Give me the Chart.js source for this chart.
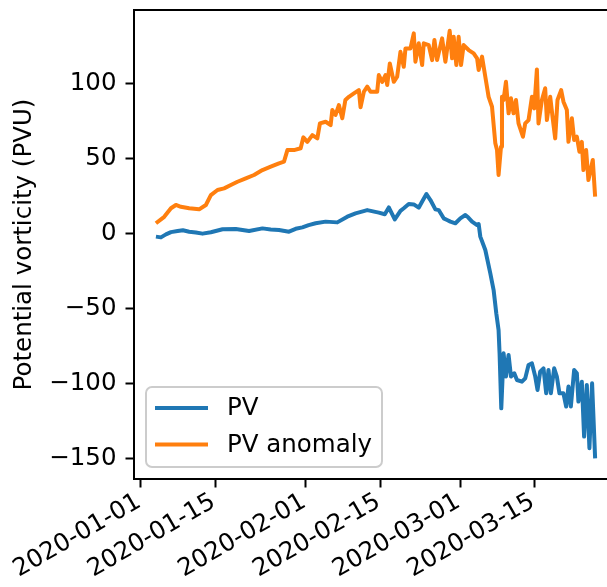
<!DOCTYPE html>
<html>
<head>
<meta charset="utf-8">
<script src="https://cdn.jsdelivr.net/npm/chart.js@4.4.1/dist/chart.umd.min.js"></script>
<style>
  html, body { margin: 0; padding: 0; background: #fff; overflow: hidden; }
  #wrap { position: relative; width: 625px; height: 587px; }
  canvas { display: block; }
</style>
</head>
<body>
<div id="wrap"><canvas id="pv-chart" width="625" height="587"></canvas></div>
<script>
// x values are days since 2020-01-01
var X_MIN = -1.31, X_MAX = 89.43;
var Y_MIN = -163.8, Y_MAX = 148.9;
var TICK_DAYS = [0, 14, 31, 45, 60, 74];
var TICK_LABELS = ['2020-01-01', '2020-01-15', '2020-02-01', '2020-02-15', '2020-03-01', '2020-03-15'];
var Y_TICKS = [-150, -100, -50, 0, 50, 100];
var Y_TITLE = 'Potential vorticity (PVU)';

var PV_DAYS = [2.81, 3.75, 4.69, 5.63, 6.88, 7.88, 9.06, 10.31, 11.57, 13.13, 15.32, 17.81, 20.31, 22.82,
  24.38, 25.93, 27.81, 29.06, 30.32, 31.5, 32.81, 34.69, 36.88, 38.76, 40.31, 42.51, 44.68, 45.81, 46.56,
  47.68, 48.75, 49.37, 50.31, 51.25, 52.18, 52.88, 53.63, 54.38, 55.31, 55.93, 56.87, 57.51, 58.13, 59.07,
  60.0, 60.94, 61.5, 62.2, 63.14, 63.44, 63.75, 64.69, 65.63, 66.25, 66.75, 67.18, 67.37, 67.69, 68.12,
  68.57, 69.06, 69.51, 70.13, 70.64, 71.57, 72.19, 72.81, 73.45, 74.07, 74.5, 75.0, 75.62, 76.13, 76.56,
  77.01, 77.63, 78.13, 78.62, 79.37, 79.88, 80.31, 80.76, 81.38, 81.89, 82.18, 82.82, 83.25, 83.76, 84.25,
  84.75, 85.32];
var PV_VALUES = [-2.2, -2.7, -0.7, 0.8, 1.5, 2.0, 1.1, 0.6, -0.2, 0.7, 2.7, 2.9, 1.5, 3.3,
  2.6, 2.2, 1.1, 3.0, 4.0, 5.5, 6.7, 7.8, 7.3, 11.1, 13.3, 15.5, 13.8, 12.7, 17.3,
  9.3, 15.0, 16.7, 19.5, 19.3, 17.1, 21.5, 26.2, 22.2, 16.0, 15.5, 10.0, 8.9, 7.8, 6.7,
  10.0, 12.2, 10.5, 7.8, 5.5, 6.2, -2.2, -11.1, -26.7, -37.8, -53.3, -64.4, -80, -116.7, -80,
  -95.5, -81.1, -95.5, -93.3, -97.8, -98.9, -96.7, -87.8, -86.7, -95.5, -104.4, -92.2, -90, -106.7, -91.1,
  -106.7, -90, -95.5, -106.7, -106.7, -115.5, -102.2, -115.5, -91.1, -93.3, -112.2, -98.9, -135.5, -101.1, -143.3,
  -100, -150];

var ANOM_DAYS = [2.81, 4.37, 5.63, 6.56, 7.5, 9.06, 10.93, 12.19, 13.13, 14.38, 15.62, 16.88, 18.13, 19.69,
  21.24, 22.82, 24.38, 25.93, 26.87, 27.51, 28.75, 30.0, 30.51, 31.26, 32.2, 33.13, 33.62, 34.69, 35.63,
  35.95, 36.56, 37.18, 37.82, 38.4, 39.06, 40.0, 40.93, 41.25, 41.87, 42.51, 43.13, 44.38, 44.68, 45.32, 45.94,
  46.26, 46.75, 47.5, 48.13, 48.75, 49.37, 49.69, 50.63, 51.25, 51.56, 52.18, 52.82, 53.12, 54.06, 54.7,
  55.13, 55.63, 56.57, 57.19, 58.0, 58.45, 58.75, 59.25, 59.68, 60.13, 60.62, 61.56, 62.5, 63.14, 63.44,
  64.07, 64.69, 65.31, 65.95, 66.57, 66.89, 67.18, 67.64, 67.82, 68.12, 68.57, 69.06, 69.51, 70.0, 70.45,
  70.93, 71.76, 72.19, 72.81, 73.45, 73.88, 74.38, 74.68, 75.32, 75.94, 76.26, 76.88, 77.39, 77.82, 78.25,
  78.94, 79.37, 80.01, 80.31, 80.95, 81.38, 81.89, 82.37, 82.82, 83.12, 83.63, 84.06, 84.88, 85.32];
var ANOM_VALUES = [6.7, 11, 16.7, 18.9, 17.7, 16.7, 16, 18.9, 25.5, 28.9, 30, 32.2, 34.4, 36.7,
  38.9, 42.2, 44.4, 46.7, 47.8, 55.5, 55.5, 56.7, 64, 61, 65.5, 63.3, 73.3, 74.4, 72.2,
  82.2, 78.9, 85.5, 76.7, 88.9, 91, 93.3, 95.5, 84, 94.4, 97.8, 94.4, 94.4, 105.5, 101, 105.5,
  98.9, 113.3, 101, 104.4, 121, 111, 123.3, 123.3, 133.3, 114.4, 126.7, 112.2, 126.7, 125.5, 115.5,
  128.9, 115.5, 130, 114.4, 135, 116.7, 131, 112.2, 131, 112.2, 125.5, 122.2, 120, 116.7, 108.9,
  117.8, 104.4, 91, 84.4, 60, 55.5, 38.9, 57.8, 91, 88.9, 101, 80, 90, 80, 88.9,
  73.3, 64.4, 73.3, 75.5, 91, 83.3, 109.3, 73.3, 88.9, 96.7, 75.5, 91, 75.5, 63.3, 88.9,
  95.5, 87.8, 82.2, 61, 76.7, 62.2, 64.4, 54.4, 61, 42.2, 55.5, 35.5, 48.9, 24.4];

var FONT = { family: "'DejaVu Sans', sans-serif", size: 24.5 };

function toPoints(xs, ys) {
  return xs.map(function (x, i) { return { x: x, y: ys[i] }; });
}

function fmtY(v) {
  return v < 0 ? '\u2212' + Math.abs(v) : String(v);
}

// black box around the plot area (matplotlib spines)
var framePlugin = {
  id: 'frame',
  afterDatasetsDraw: function (chart) {
    var a = chart.chartArea, ctx = chart.ctx;
    ctx.save();
    ctx.strokeStyle = '#000';
    ctx.lineWidth = 2;
    ctx.strokeRect(a.left, a.top, a.right - a.left, a.bottom - a.top);
    ctx.restore();
  }
};

// legend in the lower left corner of the axes
var legendBoxPlugin = {
  id: 'legendBox',
  afterDraw: function (chart) {
    var a = chart.chartArea, ctx = chart.ctx;
    var x = a.left + 12, w = 236, h = 80, y = a.bottom - 12 - h, r = 6;
    ctx.save();
    ctx.beginPath();
    ctx.moveTo(x + r, y);
    ctx.arcTo(x + w, y, x + w, y + h, r);
    ctx.arcTo(x + w, y + h, x, y + h, r);
    ctx.arcTo(x, y + h, x, y, r);
    ctx.arcTo(x, y, x + w, y, r);
    ctx.closePath();
    ctx.fillStyle = 'rgba(255,255,255,0.8)';
    ctx.fill();
    ctx.strokeStyle = '#cccccc';
    ctx.lineWidth = 2;
    ctx.stroke();
    ctx.font = FONT.size + 'px ' + FONT.family;
    ctx.textBaseline = 'middle';
    ctx.fillStyle = '#000';
    chart.data.datasets.forEach(function (ds, i) {
      var ly = y + 21 + i * 36.5;
      ctx.beginPath();
      ctx.moveTo(x + 9, ly);
      ctx.lineTo(x + 62, ly);
      ctx.strokeStyle = ds.borderColor;
      ctx.lineWidth = ds.borderWidth;
      ctx.stroke();
      ctx.fillText(ds.label, x + 81, ly + 1);
    });
    ctx.restore();
  }
};

var ctx = document.getElementById('pv-chart').getContext('2d');
new Chart(ctx, {
  type: 'line',
  data: {
    datasets: [
      { label: 'PV', data: toPoints(PV_DAYS, PV_VALUES), borderColor: '#1f77b4', borderWidth: 4,
        pointRadius: 0, tension: 0, fill: false, borderJoinStyle: 'round' },
      { label: 'PV anomaly', data: toPoints(ANOM_DAYS, ANOM_VALUES), borderColor: '#ff7f0e', borderWidth: 4,
        pointRadius: 0, tension: 0, fill: false, borderJoinStyle: 'round' }
    ]
  },
  options: {
    responsive: false,
    animation: false,
    events: [],
    layout: { padding: { top: 10, right: 8, left: 0, bottom: 0 } },
    plugins: { legend: { display: false }, tooltip: { enabled: false } },
    scales: {
      x: {
        type: 'linear',
        min: X_MIN,
        max: X_MAX,
        afterBuildTicks: function (s) { s.ticks = TICK_DAYS.map(function (v) { return { value: v }; }); },
        afterFit: function (s) { s.height = 108; s.paddingLeft = 0; s.paddingRight = 0; },
        ticks: {
          autoSkip: false,
          minRotation: 30,
          maxRotation: 30,
          color: '#000',
          font: FONT,
          padding: 0,
          labelOffset: -2,
          callback: function (v) { return TICK_LABELS[TICK_DAYS.indexOf(v)]; }
        },
        grid: { display: true, drawOnChartArea: false, drawTicks: true, tickLength: 8.5, tickWidth: 2, color: '#000' },
        border: { display: false }
      },
      y: {
        min: Y_MIN,
        max: Y_MAX,
        afterBuildTicks: function (s) { s.ticks = Y_TICKS.map(function (v) { return { value: v }; }); },
        afterFit: function (s) { s.width = 134; s.paddingTop = 0; s.paddingBottom = 0; },
        ticks: { color: '#000', font: FONT, padding: 9, callback: fmtY },
        grid: { display: true, drawOnChartArea: false, drawTicks: true, tickLength: 8.5, tickWidth: 2, color: '#000' },
        border: { display: false },
        title: { display: true, text: Y_TITLE, color: '#000', font: FONT, padding: { top: 10, bottom: 0 } }
      }
    }
  },
  plugins: [framePlugin, legendBoxPlugin]
});
</script>
</body>
</html>
